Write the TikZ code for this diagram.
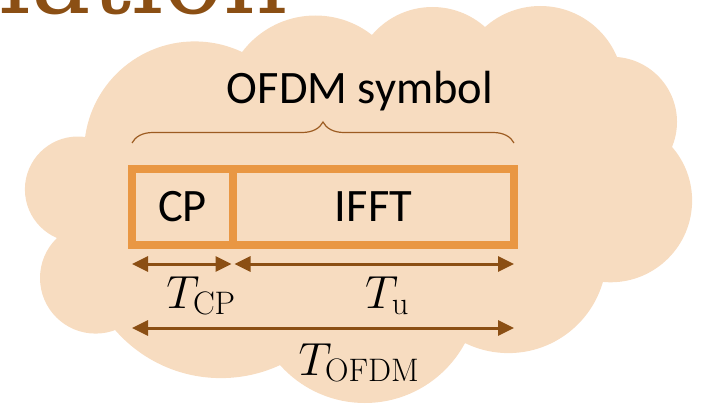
\RequirePackage{fix-cm}
\documentclass[tikz,border=0pt]{standalone}
\usepackage[no-math]{fontspec}
\setmainfont{Carlito}
\newfontfamily\titlefont{DejaVu Serif}
\usepackage{xcolor}
\usepackage{tikz}
\usetikzlibrary{arrows.meta,positioning,decorations.pathreplacing}

\definecolor{cloudfill}{HTML}{F7DCC0}
\definecolor{boxorange}{HTML}{E99743}
\definecolor{dimbrown}{HTML}{8B4F14}
\definecolor{bracebrown}{HTML}{9C5B21}

\tikzset{
  >={Triangle[length=16pt,width=15pt]},
  part/.style={draw=boxorange, line width=8pt, minimum height=76pt,
    inner sep=0pt, outer sep=0pt},
  dim/.style={<->, draw=dimbrown, line width=3pt},
  lbl/.style={anchor=base, inner sep=0pt},
  symbrace/.style={draw=bracebrown, line width=1.2pt,
    decorate, decoration={brace, amplitude=21pt}}
}

\begin{document}
\begin{tikzpicture}[x=1pt, y=-1pt, font=\fontsize{46.5}{56}\selectfont]
    \useasboundingbox (0,0) rectangle (703,404);

    % heading above, cut by the page edge
    \node[anchor=base east, inner sep=0pt, text=dimbrown,
      font=\titlefont\fontsize{100}{100}\selectfont] (title) at (288,14) {lation};

    % cloud: inner polygon plus one disc per bump
    \fill[cloudfill] (85,137) -- (242,52) -- (372,35) -- (485,27) -- (617,57)
      -- (672,147) -- (603,282) -- (465,343) -- (280,365) -- (115,330)
      -- (57,238) -- cycle;
    \foreach \cx/\cy/\r in {77.8/189.4/52.9, 194.7/152.0/110.6,
        315.4/107.3/91.8, 432.4/86.2/79.2, 540.3/89.2/83.2,
        611.9/121.9/65.1, 610.4/200.6/81.7, 508.4/254.8/98.3,
        364.8/289.3/113.7, 220.9/237.7/140.4, 95.6/278.0/55.6}
      \fill[cloudfill] (\cx,\cy) circle[radius=\r pt];

    % the symbol: cyclic prefix and IFFT part
    \node[part, minimum width=101pt] (cp) at (182.5,207) {CP};
    \node[part, minimum width=281pt, right=0pt of cp] (ifft) {IFFT};

    \draw[symbrace] ([yshift=26pt]cp.north west) -- ([yshift=26pt]ifft.north east);
    \node[lbl] (sym) at (360,103) {OFDM symbol};

    % durations
    \draw[dim, shorten >=1.5pt] ([yshift=-19pt]cp.south west) -- ([yshift=-19pt]cp.south east);
    \draw[dim, shorten <=1.5pt] ([yshift=-19pt]ifft.south west) -- ([yshift=-19pt]ifft.south east);
    \draw[dim] ([yshift=-83pt]cp.south west) -- ([yshift=-83pt]ifft.south east);

    \node[lbl] (tcp) at (201,308) {$T_{\mathrm{CP}}$};
    \node[lbl] (tu) at (387,308) {$T_{\mathrm{u}}$};
    \node[lbl] (tofdm) at (359,375) {$T_{\mathrm{OFDM}}$};
\end{tikzpicture}
\end{document}
